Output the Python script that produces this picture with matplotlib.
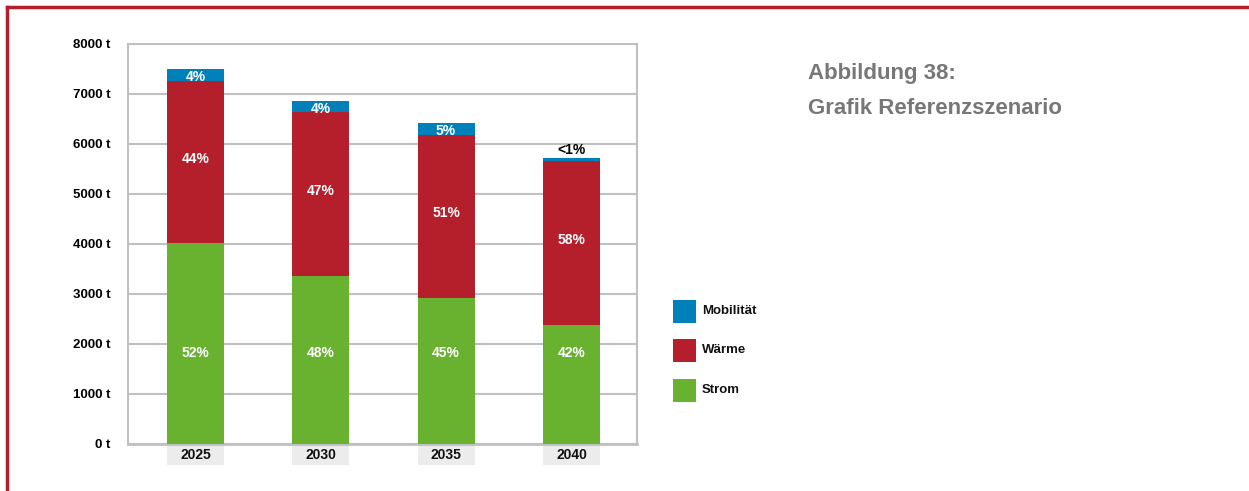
import matplotlib.pyplot as plt
from matplotlib.patches import Rectangle
from matplotlib.lines import Line2D
from matplotlib.transforms import blended_transform_factory
import numpy as np

plt.rcParams['font.family'] = ['Liberation Sans', 'DejaVu Sans']
plt.rcParams['font.weight'] = 'bold'

years = ['2025', '2030', '2035', '2040']
strom = [4020, 3360, 2920, 2380]
waerme = [3230, 3270, 3260, 3280]
mobilitaet = [240, 235, 240, 60]
strom_pct = ['52%', '48%', '45%', '42%']
waerme_pct = ['44%', '47%', '51%', '58%']
mob_pct = ['4%', '4%', '5%', '<1%']

c_strom = '#68b22f'
c_waerme = '#b41f2b'
c_mob = '#0080b8'
c_grid = '#c0c0c0'

fig = plt.figure(figsize=(12.49, 4.91), dpi=100)
ax = fig.add_axes([0.1027, 0.0963, 0.4073, 0.8141])

x = np.arange(len(years))
w = 0.455
strom = np.array(strom)
waerme = np.array(waerme)
mobilitaet = np.array(mobilitaet)

ax.bar(x, strom, w, color=c_strom, zorder=3)
ax.bar(x, waerme, w, bottom=strom, color=c_waerme, zorder=3)
ax.bar(x, mobilitaet, w, bottom=strom + waerme, color=c_mob, zorder=3)

# Strom labels share one height, the others sit in their segments
strom_label_y = 1820
for i in range(len(years)):
    ax.text(x[i], strom_label_y, strom_pct[i], ha='center', va='center',
            color='white', fontsize=10, zorder=4)
    ax.text(x[i], strom[i] + waerme[i] / 2 + 60, waerme_pct[i], ha='center', va='center',
            color='white', fontsize=10, zorder=4)
    top = strom[i] + waerme[i] + mobilitaet[i]
    if mobilitaet[i] < 150:
        ax.text(x[i], top + 20, mob_pct[i], ha='center', va='bottom',
                color='black', fontsize=10, zorder=4)
    else:
        ax.text(x[i], top - mobilitaet[i] / 2 - 40, mob_pct[i], ha='center', va='center',
                color='white', fontsize=10, zorder=4)

ax.set_xlim(-0.536, 3.523)
ax.set_ylim(0, 8000)
ax.set_yticks(np.arange(0, 8001, 1000))
ax.set_yticklabels([f'{v} t' for v in range(0, 8001, 1000)], fontsize=9.5,
                   va='center_baseline')
ax.tick_params(axis='y', length=0, pad=13)
ax.set_xticks([])
ax.grid(axis='y', color=c_grid, linewidth=1.5, zorder=1)
for s in ax.spines.values():
    s.set_color(c_grid)
    s.set_linewidth(1.5)
ax.spines['bottom'].set_linewidth(2)

# year labels in grey boxes under the bars
trans = blended_transform_factory(ax.transData, ax.transAxes)
for i, yr in enumerate(years):
    ax.add_patch(Rectangle((x[i] - w / 2, -0.052), w, 0.05, transform=trans,
                           facecolor='#ececec', edgecolor='none', clip_on=False))
    ax.text(x[i], -0.027, yr, transform=trans, ha='center', va='center',
            fontsize=10, color='#111111')

# legend
legend_items = [('Mobilität', c_mob, 311), ('Wärme', c_waerme, 350), ('Strom', c_strom, 390)]
for label, col, yc in legend_items:
    fig.patches.append(Rectangle((673 / 1249, 1 - (yc + 11.5) / 491), 23 / 1249, 23 / 491,
                                 transform=fig.transFigure, facecolor=col, edgecolor='none'))
    fig.text(702 / 1249, 1 - yc / 491, label, ha='left', va='center', fontsize=9.5,
             color='#111111')

# caption
fig.text(808 / 1249, 1 - 74 / 491, 'Abbildung 38:', ha='left', va='center',
         fontsize=16, color='#777777')
fig.text(808 / 1249, 1 - 109 / 491, 'Grafik Referenzszenario', ha='left', va='center',
         fontsize=16, color='#777777')

# red frame along top and left edge
fig.add_artist(Line2D([7 / 1249, 1.0], [1 - 7 / 491, 1 - 7 / 491], transform=fig.transFigure,
                      color='#b41f2b', linewidth=2.5))
fig.add_artist(Line2D([7 / 1249, 7 / 1249], [1 - 7 / 491, 0.0], transform=fig.transFigure,
                      color='#b41f2b', linewidth=2.5))

fig.savefig('out.png', dpi=100)
